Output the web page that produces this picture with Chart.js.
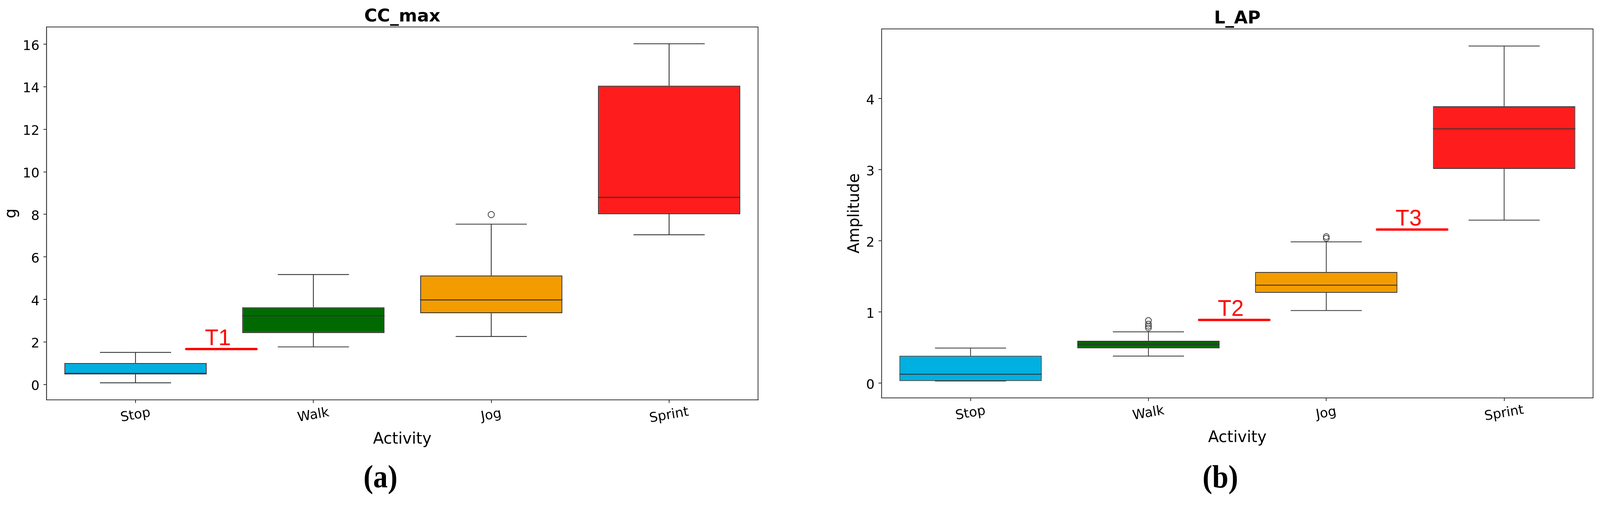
<!DOCTYPE html>
<html>
<head>
<meta charset="utf-8">
<script src="https://cdn.jsdelivr.net/npm/chart.js@4.4.1/dist/chart.umd.min.js"></script>
<style>
html,body{margin:0;padding:0;background:#fff;}
body{height:1292px;position:relative;overflow:hidden;}
.wrap{position:absolute;top:0;height:1292px;}
.cap{position:absolute;top:1179px;width:400px;text-align:center;font-family:'Liberation Serif','DejaVu Serif',serif;font-weight:bold;font-size:82px;line-height:1;color:#000;transform:scaleX(0.91);}
</style>
</head>
<body>
<div class="wrap" id="w1"><canvas id="c1"></canvas></div>
<div class="wrap" id="w2"><canvas id="c2"></canvas></div>
<div class="cap" id="capA">(a)</div>
<div class="cap" id="capB">(b)</div>
<script>
// ---------- data ----------
const categories = ['Stop', 'Walk', 'Jog', 'Sprint'];
const boxColors = ['#00b0e0', '#006a00', '#f39c00', '#ff1c1c'];

// CC_max (g)
const ccMin     = [0.08, 1.77, 2.26, 7.04];
const ccQ1      = [0.50, 2.42, 3.35, 8.01];
const ccMedian  = [0.50, 3.23, 3.98, 8.80];
const ccQ3      = [1.01, 3.63, 5.13, 14.05];
const ccMax     = [1.51, 5.17, 7.54, 16.02];
const ccOutliers = [[], [], [7.99], []];
const ccTicks   = [0, 2, 4, 6, 8, 10, 12, 14, 16];
const ccThresholdLabels = ['T1'];
const ccThresholdValues = [1.67];
const ccThresholdAfter  = [0];

// L_AP (Amplitude)
const lapMin     = [0.03, 0.38, 1.02, 2.29];
const lapQ1      = [0.03, 0.49, 1.27, 3.01];
const lapMedian  = [0.125, 0.543, 1.376, 3.574];
const lapQ3      = [0.384, 0.595, 1.562, 3.891];
const lapMax     = [0.493, 0.72, 1.986, 4.737];
const lapOutliers = [[], [0.775, 0.80, 0.83, 0.88], [2.036, 2.059], []];
const lapTicks   = [0, 1, 2, 3, 4];
const lapThresholdLabels = ['T2', 'T3'];
const lapThresholdValues = [0.888, 2.158];
const lapThresholdAfter  = [1, 2];

// ---------- layout (design width 4156, squeezed to the real window width) ----------
const DESIGN_W = 4156;
const K = Math.min(1, (window.innerWidth || DESIGN_W) / DESIGN_W);
const X = v => v * K;
document.body.style.width = X(DESIGN_W) + 'px';
const w1 = document.getElementById('w1'), w2 = document.getElementById('w2');
w1.style.left = '0px'; w1.style.width = X(2078) + 'px';
w2.style.left = X(2078) + 'px'; w2.style.width = X(2078) + 'px';
document.getElementById('capA').style.left = (X(988) - 200) + 'px';
document.getElementById('capB').style.left = (X(3170) - 200) + 'px';

// ---------- styling constants ----------
const EDGE = '#333333';
const TICK_FONT = '34px "DejaVu Sans"';
const CAP_HALF = 0.2, MED_HALF = 0.4, T_START = 0.285, T_END = 0.68, T_TEXT = 0.463;

function makeChart(id, s) {
  const boxData = categories.map((c, i) => ({x: i, y: [s.q1[i], s.q3[i]]}));
  const whiskers = [], caps = [], medians = [], outs = [], tlines = [];
  categories.forEach((c, i) => {
    whiskers.push({x: i, y: s.q3[i]}, {x: i, y: s.max[i]}, {x: i, y: null},
                  {x: i, y: s.q1[i]}, {x: i, y: s.min[i]}, {x: i, y: null});
    caps.push({x: i - CAP_HALF, y: s.max[i]}, {x: i + CAP_HALF, y: s.max[i]}, {x: i, y: null},
              {x: i - CAP_HALF, y: s.min[i]}, {x: i + CAP_HALF, y: s.min[i]}, {x: i, y: null});
    medians.push({x: i - MED_HALF, y: s.med[i]}, {x: i + MED_HALF, y: s.med[i]}, {x: i, y: null});
    s.out[i].forEach(v => outs.push({x: i, y: v}));
  });
  s.tAfter.forEach((a, k) => {
    tlines.push({x: a + T_START, y: s.tVal[k]}, {x: a + T_END, y: s.tVal[k]}, {x: a, y: null});
  });

  const lineDs = (data, color, width, order, extra) => Object.assign({
    type: 'line', data, borderColor: color, borderWidth: width, pointRadius: 0,
    spanGaps: false, fill: false, order, tension: 0
  }, extra || {});

  const overlay = {
    id: 'overlay' + id,
    afterDraw(chart) {
      const {ctx, chartArea, scales} = chart;
      ctx.save();
      // frame (all four spines)
      ctx.strokeStyle = EDGE; ctx.lineWidth = 2;
      ctx.strokeRect(chartArea.left, chartArea.top, chartArea.right - chartArea.left, chartArea.bottom - chartArea.top);
      ctx.fillStyle = '#000';
      ctx.font = TICK_FONT;
      // value labels on the y axis (digits centred on their ticks)
      ctx.textAlign = 'right'; ctx.textBaseline = 'alphabetic';
      scales.y.ticks.forEach(t => {
        const py = scales.y.getPixelForValue(t.value);
        ctx.fillText(String(t.value), chartArea.left - 18, py + 14.5);
      });
      // rotated category labels, centred under their ticks
      ctx.textAlign = 'center'; ctx.textBaseline = 'middle';
      scales.x.ticks.forEach(t => {
        const px = scales.x.getPixelForValue(t.value);
        ctx.save();
        ctx.translate(px, chartArea.bottom + 40);
        ctx.rotate(-10 * Math.PI / 180);
        ctx.fillText(categories[t.value], 0, 0);
        ctx.restore();
      });
      // threshold labels
      ctx.fillStyle = '#ff0000';
      ctx.font = '57px "Liberation Sans"';
      ctx.textBaseline = 'alphabetic';
      s.tAfter.forEach((a, k) => {
        const px = scales.x.getPixelForValue(a + T_TEXT);
        const py = scales.y.getPixelForValue(s.tVal[k]) - 10;
        ctx.fillText(s.tLab[k], px, py);
      });
      ctx.restore();
    }
  };

  return new Chart(document.getElementById(id), {
    type: 'bar',
    data: {
      datasets: [
        {type: 'bar', data: boxData, backgroundColor: boxColors, borderColor: EDGE,
         borderWidth: s.boxLW, borderSkipped: false, barPercentage: 0.8, categoryPercentage: 1.0, order: 10},
        lineDs(whiskers, EDGE, s.whLW, 12),
        lineDs(caps, EDGE, s.whLW, 5),
        lineDs(medians, EDGE, s.boxLW, 4),
        lineDs(outs, EDGE, 0, 3, {showLine: false, pointRadius: s.outR, pointBorderWidth: 1.8,
               pointBorderColor: EDGE, pointBackgroundColor: 'rgba(0,0,0,0)', pointStyle: 'circle'}),
        lineDs(tlines, '#ff0000', 6, 2, {borderCapStyle: 'round'})
      ]
    },
    options: {
      responsive: true, maintainAspectRatio: false, devicePixelRatio: 1,
      animation: false, events: [],
      layout: {padding: {left: 0, right: s.padRight, top: 0, bottom: 0}},
      plugins: {
        legend: {display: false}, tooltip: {enabled: false},
        title: {display: true, text: s.title, fullSize: false, color: '#000',
                font: {family: 'DejaVu Sans', size: 45, weight: 'bold', lineHeight: 1},
                padding: {top: s.titlePadTop, bottom: s.titlePadBottom}}
      },
      scales: {
        x: {
          type: 'linear', min: -0.5, max: 3.5, offset: false,
          afterBuildTicks: ax => { ax.ticks = categories.map((c, i) => ({value: i})); },
          afterFit: ax => { ax.height = s.xAxisH; },
          grid: {display: true, offset: false, drawOnChartArea: false, drawTicks: true, tickLength: 8, color: EDGE, lineWidth: 2},
          border: {display: true, color: EDGE, width: 2},
          ticks: {display: true, color: 'rgba(0,0,0,0)', autoSkip: false, maxRotation: 0, minRotation: 0,
                  font: {family: 'DejaVu Sans', size: 34}, callback: v => categories[v] || ''},
          title: {display: true, text: 'Activity', color: '#000', font: {family: 'DejaVu Sans', size: 40},
                  padding: {top: 0, bottom: s.xTitlePad}}
        },
        y: {
          type: 'linear', min: s.yMin, max: s.yMax,
          afterBuildTicks: ax => { ax.ticks = s.ticks.map(v => ({value: v})); },
          afterFit: ax => { ax.width = s.yAxisW; },
          grid: {display: true, drawOnChartArea: false, drawTicks: true, tickLength: 8, color: EDGE, lineWidth: 2},
          border: {display: true, color: EDGE, width: 2},
          ticks: {color: 'rgba(0,0,0,0)', padding: 10, font: {family: 'DejaVu Sans', size: 34}},
          title: {display: true, text: s.yLabel, color: '#000', font: {family: 'DejaVu Sans', size: 40},
                  padding: {top: s.yTitlePad, bottom: 0}}
        }
      }
    },
    plugins: [overlay]
  });
}

makeChart('c1', {
  title: 'CC_max', yLabel: 'g', yMin: -0.72, yMax: 16.81, ticks: ccTicks,
  min: ccMin, q1: ccQ1, med: ccMedian, q3: ccQ3, max: ccMax, out: ccOutliers,
  tLab: ccThresholdLabels, tVal: ccThresholdValues, tAfter: ccThresholdAfter,
  padRight: X(109), yAxisW: X(121), xAxisH: 269, titlePadTop: 21, titlePadBottom: 3,
  xTitlePad: 143, yTitlePad: X(30) - 24, boxLW: 2.5, whLW: 2.2, outR: 8
});
makeChart('c2', {
  title: 'L_AP', yLabel: 'Amplitude', yMin: -0.208, yMax: 4.978, ticks: lapTicks,
  min: lapMin, q1: lapQ1, med: lapMedian, q3: lapQ3, max: lapMax, out: lapOutliers,
  tLab: lapThresholdLabels, tVal: lapThresholdValues, tAfter: lapThresholdAfter,
  padRight: X(18), yAxisW: X(212), xAxisH: 274, titlePadTop: 26, titlePadBottom: 3,
  xTitlePad: 147, yTitlePad: X(143) - 24, boxLW: 2.2, whLW: 2, outR: 7.5
});
</script>
</body>
</html>
